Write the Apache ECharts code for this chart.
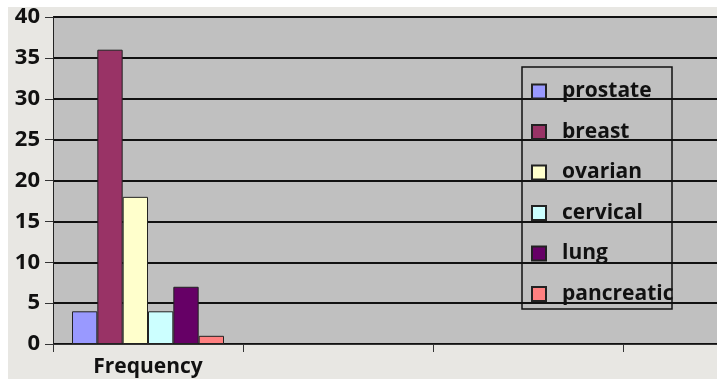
<!DOCTYPE html>
<html><head><meta charset="utf-8">
<script src="https://cdn.jsdelivr.net/npm/echarts@6/dist/echarts.min.js"></script>
<style>html,body{margin:0;padding:0;background:#fff;overflow:hidden;width:717px;height:379px}#c{width:813px;height:379px}</style>
</head><body><div id="c"></div>
<script>
const categories = ['Frequency', '', '', ''];
const seriesNames = ['prostate', 'breast', 'ovarian', 'cervical', 'lung', 'pancreatic'];
const seriesColors = ['#9999FF', '#993366', '#FFFFCC', '#CCFFFF', '#660066', '#FF8080'];
const prostate = [4, null, null, null];
const breast = [36, null, null, null];
const ovarian = [18, null, null, null];
const cervical = [4, null, null, null];
const lung = [7, null, null, null];
const pancreatic = [1, null, null, null];
const yTicks = [0, 5, 10, 15, 20, 25, 30, 35, 40];

const values = [prostate, breast, ovarian, cervical, lung, pancreatic];
const FONT = '"Open Sans", sans-serif';
const chart = echarts.init(document.getElementById('c'), null, {renderer: 'canvas'});
chart.setOption({
  backgroundColor: '#E8E7E3',
  animation: false,
  grid: {left: 53, top: 17, bottom: 35, right: 0, show: true, backgroundColor: '#C0C0C0', borderWidth: 0},
  xAxis: {
    type: 'category', data: categories,
    axisLine: {lineStyle: {color: '#333', width: 1}},
    axisTick: {show: true, length: 8, lineStyle: {color: '#333'}},
    axisLabel: {color: '#111', fontFamily: FONT, fontWeight: 'bold', fontSize: 21, margin: 13},
    splitLine: {show: false}
  },
  yAxis: {
    type: 'value', min: yTicks[0], max: yTicks[yTicks.length - 1], interval: 5,
    axisLine: {show: true, lineStyle: {color: '#222', width: 1}},
    axisTick: {show: true, length: 8, lineStyle: {color: '#333'}},
    axisLabel: {color: '#111', fontFamily: FONT, fontWeight: 'bold', fontSize: 22, margin: 13},
    splitLine: {lineStyle: {color: '#111', width: 2}}
  },
  legend: {
    orient: 'vertical', left: 526, top: 76,
    itemWidth: 14, itemHeight: 14, itemGap: 19.5, icon: 'rect',
    textStyle: {color: '#111', fontFamily: FONT, fontWeight: 'bold', fontSize: 21, lineHeight: 20, padding: [0, 0, 0, 11]},
    data: seriesNames
  },
  graphic: [
    {type: 'rect', shape: {x: 522, y: 67, width: 150, height: 242}, style: {fill: 'none', stroke: '#111', lineWidth: 1.5}, z: 100},
    {type: 'rect', shape: {x: 0, y: 0, width: 813, height: 7}, style: {fill: '#fff'}, z: 100},
    {type: 'rect', shape: {x: 0, y: 0, width: 8, height: 379}, style: {fill: '#fff'}, z: 100}
  ],
  series: seriesNames.map((n, i) => ({
    name: n, type: 'bar', data: values[i],
    barGap: '0%', barCategoryGap: '20%',
    itemStyle: {color: seriesColors[i], borderColor: '#222', borderWidth: 1}
  }))
});
</script></body></html>
